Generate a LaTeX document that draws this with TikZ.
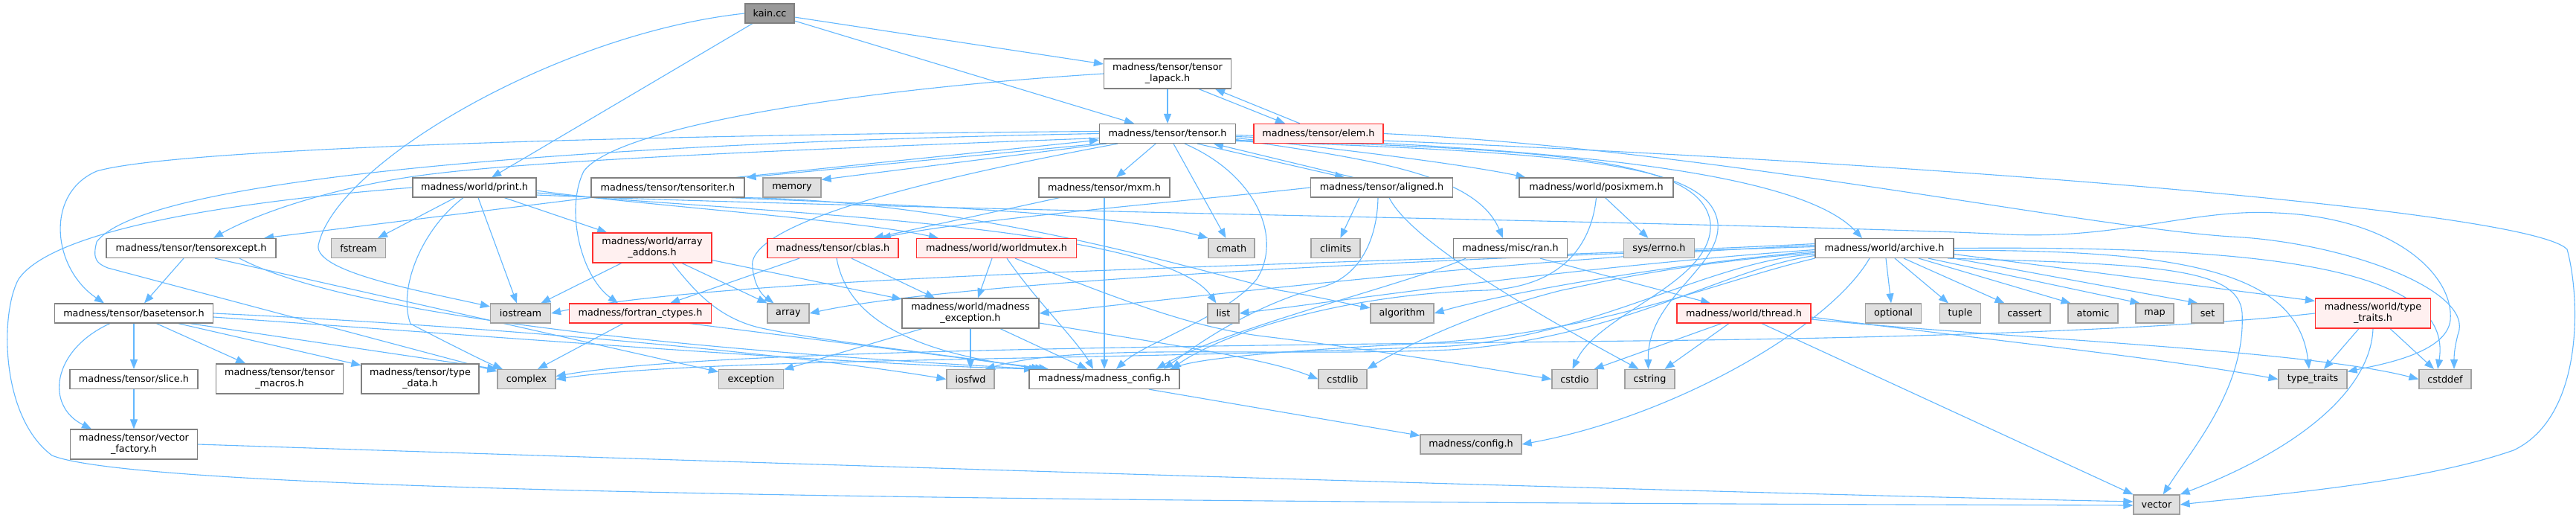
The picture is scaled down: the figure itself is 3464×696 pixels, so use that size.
\documentclass[tikz,border=0pt]{standalone}
\usepackage{fontspec}
\newfontfamily\djv{DejaVu Sans}
\usetikzlibrary{arrows.meta}
\pgfdeclarelayer{bg}
\pgfsetlayers{bg,main}
\definecolor{edgec}{HTML}{63B8FF}
\definecolor{sysfill}{HTML}{E0E0E0}
\definecolor{sysdraw}{HTML}{A0A0A0}
\definecolor{nddraw}{HTML}{808080}
\definecolor{rootfill}{HTML}{999999}
\definecolor{truncfill}{HTML}{FFF0F0}
\definecolor{truncdraw}{HTML}{FF3030}
\tikzset{
  nd/.style={draw=nddraw, line width=1.2pt, fill=white, rectangle, minimum height=26pt, inner sep=0pt, text=black, font=\djv\fontsize{12.8}{15}\selectfont},
  sys/.style={nd, draw=sysdraw, fill=sysfill},
  trunc/.style={nd, draw=truncdraw, fill=truncfill},
  rootn/.style={nd, draw=nddraw, fill=rootfill},
  twol/.style={minimum height=40pt, align=center},
  ed/.style={draw=edgec, line width=1.1pt, -{Triangle[length=13pt,width=10pt]}}
}
\begin{document}
\begin{tikzpicture}[x=1pt,y=-1pt]
\useasboundingbox (0,0) rectangle (3464,696);
% nodes
\node[rootn, minimum width=66pt] (kain) at (1035,18) {kain.cc};
\node[nd, twol, minimum width=171pt] (lapack) at (1570,99) {madness/tensor/tensor\\\_lapack.h};
\node[nd, minimum width=183pt] (tensor) at (1570,179.5) {madness/tensor/tensor.h};
\node[trunc, minimum width=174pt] (elem) at (1773,179.5) {madness/tensor/elem.h};
\node[nd, minimum width=166pt] (print) at (638,252) {madness/world/print.h};
\node[nd, minimum width=206pt] (tensoriter) at (898,252) {madness/tensor/tensoriter.h};
\node[sys, minimum width=78pt] (memory) at (1065,252) {memory};
\node[nd, minimum width=176pt] (mxm) at (1485,252) {madness/tensor/mxm.h};
\node[nd, minimum width=191pt] (aligned) at (1858,252) {madness/tensor/aligned.h};
\node[nd, minimum width=207pt] (posixmem) at (2146.5,252) {madness/world/posixmem.h};
\node[nd, minimum width=228pt] (tensorexcept) at (257,333.5) {madness/tensor/tensorexcept.h};
\node[sys, minimum width=73pt] (fstream) at (482,333.5) {fstream};
\node[trunc, twol, minimum width=160pt] (addons) at (877,333) {madness/world/array\\\_addons.h};
\node[trunc, minimum width=176pt] (cblas) at (1120,333.5) {madness/tensor/cblas.h};
\node[trunc, minimum width=215pt] (worldmutex) at (1340,333.5) {madness/world/worldmutex.h};
\node[sys, minimum width=62pt] (cmath) at (1656,333.5) {cmath};
\node[sys, minimum width=66pt] (climits) at (1796,333.5) {climits};
\node[nd, minimum width=153pt] (ran) at (2031,333.5) {madness/misc/ran.h};
\node[sys, minimum width=95pt] (errno) at (2231,333.5) {sys/errno.h};
\node[nd, minimum width=186pt] (archive) at (2534,333.5) {madness/world/archive.h};
\node[nd, minimum width=213pt] (basetensor) at (180,421) {madness/tensor/basetensor.h};
\node[sys, minimum width=81pt] (iostream) at (700,421) {iostream};
\node[trunc, minimum width=191pt] (fortran) at (861,421) {madness/fortran\_ctypes.h};
\node[sys, minimum width=56pt] (array) at (1060,421) {array};
\node[nd, twol, minimum width=184pt] (mexc) at (1305,421) {madness/world/madness\\\_exception.h};
\node[sys, minimum width=42pt] (list) at (1645,421) {list};
\node[sys, minimum width=85pt] (algorithm) at (1885.5,421) {algorithm};
\node[trunc, minimum width=180pt] (thread) at (2345,421) {madness/world/thread.h};
\node[sys, minimum width=75pt] (optional) at (2546,421) {optional};
\node[sys, minimum width=55pt] (tuple) at (2636,421) {tuple};
\node[sys, minimum width=69pt] (cassert) at (2722.5,421) {cassert};
\node[sys, minimum width=67pt] (atomic) at (2814.5,421) {atomic};
\node[sys, minimum width=51pt] (map) at (2897.5,421) {map};
\node[sys, minimum width=43pt] (set) at (2968.5,421) {set};
\node[trunc, twol, minimum width=155pt] (wtt) at (3191,421) {madness/world/type\\\_traits.h};
\node[nd, minimum width=172pt] (slice) at (180,509.5) {madness/tensor/slice.h};
\node[nd, twol, minimum width=171pt] (macros) at (376,509) {madness/tensor/tensor\\\_macros.h};
\node[nd, twol, minimum width=158pt] (typedata) at (565,509) {madness/tensor/type\\\_data.h};
\node[sys, minimum width=78pt] (complex) at (708,509.5) {complex};
\node[sys, minimum width=87pt] (exception) at (1010,509.5) {exception};
\node[sys, minimum width=64pt] (iosfwd) at (1305,509.5) {iosfwd};
\node[nd, minimum width=202pt] (mconfig) at (1485,509.5) {madness/madness\_config.h};
\node[sys, minimum width=65pt] (cstdlib) at (1805.5,509.5) {cstdlib};
\node[sys, minimum width=61pt] (cstdio) at (2117.5,509.5) {cstdio};
\node[sys, minimum width=67pt] (cstring) at (2218.5,509.5) {cstring};
\node[sys, minimum width=92pt] (typetraits) at (3110,509.5) {type\_traits};
\node[sys, minimum width=70pt] (cstddef) at (3288,509.5) {cstddef};
\node[nd, twol, minimum width=171pt] (vecfactory) at (180,597) {madness/tensor/vector\\\_factory.h};
\node[sys, minimum width=136pt] (config) at (1978,597) {madness/config.h};
\node[sys, minimum width=62pt] (vector) at (2900,678) {vector};

\begin{pgfonlayer}{bg}
\fill[white] (0,0) rectangle (3464,696);
% kain
\draw[ed] (kain) -- (lapack);
\draw[ed] (kain) -- (tensor);
\draw[ed] (kain) -- (print);
\draw[ed] (kain.west) .. controls (750,45) and (450,220) .. (428,330) .. controls (424,365) and (560,390) .. (iostream);
% lapack / elem
\draw[ed] (lapack) -- (tensor);
\draw[ed] ([xshift=42]lapack.south) -- ([xshift=-45]elem.north);
\draw[ed] ([xshift=-25]elem.north) -- ([xshift=64]lapack.south);
\draw[ed] (lapack.west) .. controls (1150,120) and (830,170) .. (785,230) .. controls (760,280) and (780,370) .. ([xshift=-30]fortran.north);
\draw[ed] (elem.east) .. controls (2300,200) and (2800,305) .. (3000,318) .. controls (3150,325) and (3330,390) .. (3305,450) .. controls (3300,470) and (3300,480) .. ([xshift=12]cstddef.north);
% tensor
\draw[ed] (tensor.south west) -- ([xshift=2]tensoriter.north east);
\draw[ed] ([xshift=-12]tensoriter.north east) -- ([yshift=5]tensor.south west);
\draw[ed] ([xshift=10]tensor.south west) -- ([yshift=-3]memory.north east);
\draw[ed] ([xshift=25]tensor.south west) .. controls (1250,240) and (1000,300) .. (1012,360) .. controls (1015,390) and (1030,400) .. (array);
\draw[ed] (tensor) -- (mxm);
\draw[ed] ([xshift=8]tensor.south) -- (cmath);
\draw[ed] ([xshift=23]tensor.south) .. controls (1690,235) and (1725,320) .. (1690,375) .. controls (1650,425) and (1540,460) .. ([xshift=16]mconfig.north);
\draw[ed] ([xshift=40]tensor.south) -- ([xshift=-50]aligned.north);
\draw[ed] ([xshift=-38]aligned.north) -- ([xshift=62]tensor.south);
\draw[ed] ([yshift=-6]tensor.east) .. controls (1850,205) and (1990,225) .. ([xshift=-95]posixmem.north);
\draw[ed] ([yshift=-8]tensor.east) .. controls (1850,215) and (1985,235) .. ([xshift=-10]ran.north);
\draw[ed] ([yshift=-4]tensor.east) .. controls (2100,200) and (2420,230) .. ([xshift=-30]archive.north);
\draw[ed] ([yshift=-2]tensor.east) .. controls (2500,210) and (3400,280) .. (3452,335) .. controls (3470,400) and (3475,560) .. (3380,605) .. controls (3250,650) and (3050,665) .. (vector.east);
\draw[ed] ([yshift=-9]tensor.east) .. controls (2100,200) and (2290,215) .. (2300,300) .. controls (2305,380) and (2150,420) .. ([xshift=-3]cstdio.north);
\draw[ed] ([yshift=-10]tensor.east) .. controls (2120,205) and (2300,220) .. (2310,300) .. controls (2315,360) and (2215,400) .. ([xshift=-2]cstring.north);
\draw[ed] ([yshift=3]tensor.west) .. controls (1000,180) and (250,195) .. (130,230) .. controls (60,260) and (70,360) .. ([xshift=-40]basetensor.north);
\draw[ed] (tensor.west) .. controls (900,190) and (200,230) .. (130,325) .. controls (124,348) and (130,354) .. (145,360) -- (complex);
\draw[ed] ([yshift=-6]tensor.west) .. controls (1100,200) and (700,215) .. (550,238) .. controls (420,258) and (330,295) .. ([xshift=30]tensorexcept.north);
% print
\draw[ed] (print) -- (fstream);
\draw[ed] ([xshift=-15]print.south) .. controls (565,310) and (535,390) .. (552,435) .. controls (600,460) and (650,485) .. (complex);
\draw[ed] ([xshift=5]print.south) -- (iostream);
\draw[ed] (print) -- (addons);
\draw[ed] ([yshift=-4]print.east) .. controls (850,275) and (1150,295) .. ([xshift=30]worldmutex.north west);
\draw[ed] ([yshift=-7]print.east) .. controls (1000,285) and (1560,300) .. (list);
\draw[ed] (print.west) .. controls (300,272) and (70,310) .. (25,375) .. controls (0,420) and (0,560) .. (70,612) .. controls (200,665) and (1500,675) .. ([yshift=-1]vector.west);
\draw[ed] ([yshift=-10]print.east) .. controls (1200,282) and (2400,300) .. (2700,315) .. controls (2850,322) and (2950,280) .. (3060,286) .. controls (3220,292) and (3300,370) .. (3295,430) .. controls (3290,475) and (3200,490) .. (typetraits);
% tensoriter
\draw[ed] (tensoriter.south west) -- ([xshift=98]tensorexcept.north);
\draw[ed] ([xshift=-20]tensoriter.south east) .. controls (1200,275) and (1500,285) .. (cmath.north west);
\draw[ed] (tensoriter.south east) .. controls (1300,270) and (1600,360) .. (1720,390) .. controls (1780,400) and (1820,410) .. (algorithm);
% tensorexcept
\draw[ed] ([xshift=-10]tensorexcept.south) -- ([xshift=14]basetensor.north);
\draw[ed] ([xshift=32]tensorexcept.south) -- (exception);
\draw[ed] ([xshift=65]tensorexcept.south) .. controls (500,440) and (1100,480) .. ([xshift=-88]mconfig.north);
% basetensor
\draw[ed] (basetensor) -- (slice);
\draw[ed] (basetensor) -- (macros);
\draw[ed] (basetensor) -- (typedata);
\draw[ed] ([xshift=75]basetensor.south) -- (complex.north west);
\draw[ed] ([xshift=-32]basetensor.south) .. controls (70,470) and (60,545) .. ([xshift=-57]vecfactory.north);
\draw[ed] (basetensor.east) .. controls (700,440) and (1100,480) .. (iosfwd.west);
\draw[ed] ([yshift=-5]basetensor.east) .. controls (700,455) and (1150,490) .. ([xshift=-95]mconfig.north);
\draw[ed] (slice) -- (vecfactory);
\draw[ed] (vecfactory.east) .. controls (1200,628) and (2300,662) .. ([yshift=4]vector.west);
% addons
\draw[ed] (addons) -- (iostream);
\draw[ed] ([xshift=40]addons.south) -- (array.north west);
\draw[ed] (addons) -- (mexc);
\draw[ed] ([xshift=27]addons.south) .. controls (930,385) and (960,425) .. (1020,440) .. controls (1100,458) and (1300,480) .. ([xshift=-85]mconfig.north);
% fortran
\draw[ed] ([xshift=-23]fortran.south) -- ([xshift=15]complex.north);
\draw[ed] ([xshift=-30]fortran.south east) -- ([xshift=-75]mconfig.north);
% cblas
\draw[ed] ([xshift=-45]cblas.south) -- ([xshift=40]fortran.north);
\draw[ed] ([xshift=25]cblas.south) -- ([xshift=-48]mexc.north);
\draw[ed] ([xshift=5]cblas.south) .. controls (1140,430) and (1230,475) .. ([xshift=-80]mconfig.north);
% worldmutex
\draw[ed] ([xshift=-6]worldmutex.south) -- ([xshift=10]mexc.north);
\draw[ed] ([xshift=14]worldmutex.south) .. controls (1390,400) and (1450,460) .. ([xshift=-15]mconfig.north);
\draw[ed] ([xshift=25]worldmutex.south) .. controls (1500,400) and (1600,440) .. (1700,452) .. controls (1850,470) and (2000,495) .. (cstdio.west);
% mxm
\draw[ed] (mxm) -- (mconfig);
\draw[ed] ([xshift=-60]mxm.south) -- ([xshift=55]cblas.north);
% aligned
\draw[ed] ([xshift=-30]aligned.south) -- (climits);
\draw[ed] ([xshift=10]aligned.south) .. controls (1900,330) and (2100,440) .. ([xshift=-15]cstring.north);
\draw[ed] (aligned.west) .. controls (1600,270) and (1300,295) .. ([xshift=65]cblas.north);
\draw[ed] ([xshift=-5]aligned.south) .. controls (1852,320) and (1830,370) .. (1780,385) .. controls (1680,410) and (1600,470) .. ([xshift=80]mconfig.north);
% posixmem
\draw[ed] ([xshift=12]posixmem.south) -- (errno);
\draw[ed] (posixmem.south) .. controls (2140,330) and (2100,385) .. (2000,390) .. controls (1800,395) and (1640,450) .. ([xshift=90]mconfig.north);
% ran
\draw[ed] ([xshift=40]ran.south) -- ([xshift=-45]thread.north);
\draw[ed] ([xshift=-60]ran.south) .. controls (1900,380) and (1650,440) .. ([xshift=70]mconfig.north);
% thread
\draw[ed] ([xshift=-30]thread.south) -- ([xshift=-5]cstdio.north east);
\draw[ed] ([xshift=-20]thread.south) -- ([xshift=20]cstring.north);
\draw[ed] ([xshift=24]thread.south) -- (vector.north west);
\draw[ed] ([yshift=-5]thread.east) .. controls (2700,460) and (2900,480) .. (typetraits.west);
\draw[ed] ([yshift=-8]thread.east) .. controls (2700,455) and (3100,470) .. (cstddef.west);
% archive
\draw[ed] ([xshift=2]archive.south) -- ([xshift=-3]optional.north);
\draw[ed] ([xshift=14]archive.south) -- ([xshift=-16]tuple.north);
\draw[ed] ([xshift=26]archive.south) -- ([xshift=-27]cassert.north);
\draw[ed] ([xshift=46]archive.south) -- ([xshift=-30]atomic.north);
\draw[ed] ([xshift=59]archive.south) -- ([xshift=-20]map.north);
\draw[ed] (archive.south east) -- ([xshift=-13]set.north);
\draw[ed] ([yshift=-8]archive.east) -- ([yshift=-4]wtt.north west);
\draw[ed] ([yshift=-3]archive.east) .. controls (2950,335) and (3090,370) .. ([xshift=-5]typetraits.north);
\draw[ed] (archive.east) .. controls (3050,330) and (3300,360) .. ([xshift=-10]cstddef.north);
\draw[ed] ([xshift=85]archive.south) .. controls (2900,355) and (3010,360) .. (3015,420) .. controls (3020,520) and (2950,600) .. (vector);
\draw[ed] ([xshift=-20]archive.south) .. controls (2460,440) and (2250,560) .. (config.east);
\draw[ed] ([yshift=-4]archive.west) .. controls (2200,360) and (2000,400) .. (algorithm.east);
\draw[ed] ([yshift=-2]archive.west) .. controls (2100,360) and (1800,405) .. (list.east);
\draw[ed] ([yshift=2]archive.west) .. controls (2000,345) and (1300,375) .. (array.east);
\draw[ed] ([yshift=4]archive.west) .. controls (2000,350) and (1600,400) .. (mexc.east);
\draw[ed] ([yshift=6]archive.west) .. controls (1900,355) and (1000,365) .. (iostream.east);
\draw[ed] ([yshift=-8]archive.west) .. controls (2300,350) and (2150,450) .. (1950,465) .. controls (1500,485) and (950,480) .. (complex.east);
\draw[ed] ([yshift=-10]archive.west) .. controls (2320,360) and (2180,455) .. (1950,470) .. controls (1700,480) and (1450,460) .. ([xshift=20]iosfwd.north);
\draw[ed] (archive.south west) .. controls (2300,380) and (2150,450) .. (1900,462) .. controls (1750,470) and (1620,480) .. ([xshift=88]mconfig.north);
\draw[ed] ([yshift=-6]archive.west) .. controls (2250,355) and (2150,380) .. (2100,390) .. controls (1980,420) and (1880,470) .. (cstdlib.north east);
% wtt
\draw[ed] ([xshift=-19]wtt.south) -- ([xshift=15]typetraits.north);
\draw[ed] ([xshift=23]wtt.south) -- ([xshift=-15]cstddef.north);
\draw[ed] (wtt.south) .. controls (3188,520) and (3100,600) .. (vector.north east);
\draw[ed] (wtt.west) .. controls (2900,445) and (2500,455) .. (2200,458) .. controls (1600,465) and (950,470) .. ([yshift=4]complex.east);
% mexc
\draw[ed] ([xshift=-65]mexc.south) -- (exception);
\draw[ed] (mexc) -- (iosfwd);
\draw[ed] ([xshift=40]mexc.south) -- ([xshift=-23]mconfig.north);
\draw[ed] ([yshift=-13]mexc.east) .. controls (1550,460) and (1700,480) .. (cstdlib.west);
% mconfig
\draw[ed] ([xshift=60]mconfig.south) -- (config);
\end{pgfonlayer}
\end{tikzpicture}
\end{document}
